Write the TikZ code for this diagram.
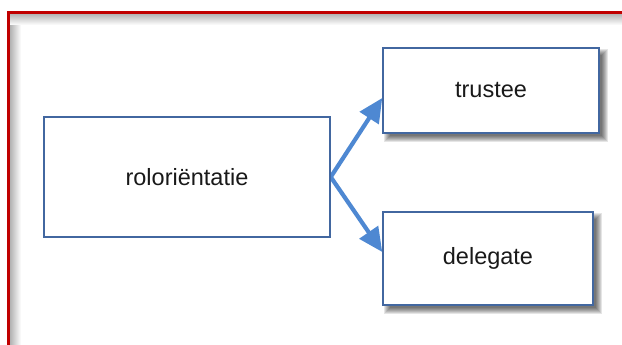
\documentclass[tikz,border=0pt]{standalone}
\usepackage{fontspec}
\setmainfont{Liberation Sans}
\usetikzlibrary{arrows.meta,calc,backgrounds}

\definecolor{frameRed}{RGB}{192,0,0}
\definecolor{boxBlue}{RGB}{66,103,160}
\definecolor{arrowBlue}{RGB}{78,136,210}

\tikzset{
  box/.style={draw=boxBlue, line width=1.5pt, fill=white, inner sep=0pt,
              font=\fontsize{23.5}{28}\selectfont, text=black!90},
  link/.style={draw=arrowBlue, line width=4.2pt,
              -{Triangle[length=24pt,width=22pt]}},
  shadowlayer/.style={fill=black, opacity=0.1, draw=none}
}

% soft drop shadow behind a named node, built from stacked translucent rectangles
\newcommand{\softshadow}[1]{%
  \foreach \d in {-3,-2,-1,0,1,2,3}{
    \path[shadowlayer]
      ($(#1.south west)+(5pt,-5pt)+(\d pt,\d pt)$) rectangle
      ($(#1.north east)+(5pt,-5pt)+(-\d pt,-\d pt)$);
  }%
}

\begin{document}
\begin{tikzpicture}[x=1pt,y=1pt]
  \useasboundingbox (0,0) rectangle (622,-345);

  % boxes
  \node[box, minimum width=286pt, minimum height=120pt] (orient) at (187,-177) {roloriëntatie};
  \node[box, minimum width=216pt, minimum height=85pt] (trustee) at (491,-90.5) {trustee};
  \node[box, minimum width=210pt, minimum height=93pt] (delegate) at (488,-258.5) {delegate};

  \begin{scope}[on background layer]
    \fill[white] (0,0) rectangle (622,-345);
    % soft inner shadow along the frame
    \shade[left color=black!30, right color=white] (10,-13.5) rectangle (21,-345);
    \shade[top color=black!30, bottom color=white] (10,-13.5) rectangle (622,-25);
    % red frame
    \draw[frameRed, line width=3pt] (8.8,-350) -- (8.8,-13) -- (630,-13);

    \softshadow{trustee}
    \softshadow{delegate}

    % connectors, tips tucked under the target boxes
    \draw[link] (orient.east) -- ($(trustee.west)+(0,-7.5)$);
    \draw[link] (orient.east) -- ($(delegate.west)+(0,6.5)$);
  \end{scope}
\end{tikzpicture}
\end{document}
